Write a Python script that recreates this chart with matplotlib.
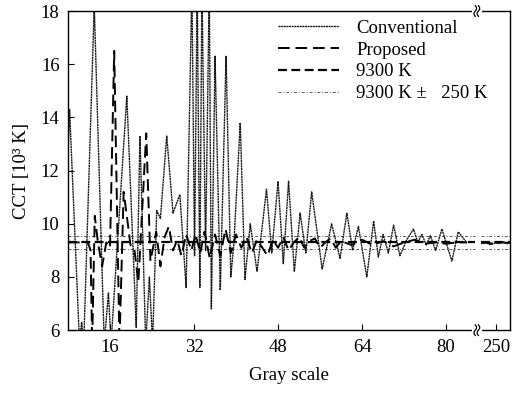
import matplotlib
matplotlib.use("Agg")
import matplotlib.pyplot as plt
import numpy as np

plt.rcParams['font.family'] = ['Liberation Serif', 'DejaVu Serif']
plt.rcParams['font.size'] = 13.5

# conventional method (gray level, CCT in 10^3 K)
conv_g = [8.0, 8.3, 10.2, 10.6, 11.0, 13.0, 14.9, 15.7, 16.2, 19.2, 21.0, 21.7,
          22.8, 23.5, 24.1, 24.9, 25.6, 26.8, 28.0, 29.3, 30.5, 31.6, 32.1, 32.6,
          33.1, 33.5, 34.2, 34.9, 35.3, 36.0, 37.0, 38.1, 39.0, 39.6, 40.8, 41.7,
          42.7, 44.0, 45.8, 46.8, 48.0, 49.0, 50.0, 51.1, 52.2, 53.3, 54.4, 56.4,
          58.2, 59.8, 61.1, 62.2, 63.3, 64.9, 66.2, 67.1, 68.0, 69.0, 70.0, 71.2,
          72.5, 73.8, 74.6, 75.4, 76.2, 77.0, 78.0, 79.2, 81.1, 82.3, 83.9]
conv_v = [12.6, 14.3, 5.5, 6.3, 5.5, 18.2, 5.5, 7.4, 5.5, 14.8, 6.1, 13.3,
          5.5, 8.0, 5.5, 10.5, 10.2, 13.3, 10.4, 11.1, 7.6, 19.0, 8.8, 19.0,
          7.6, 19.0, 9.0, 19.0, 6.8, 16.3, 7.5, 16.3, 8.0, 9.3, 13.8, 7.9,
          10.0, 8.2, 11.3, 8.9, 11.6, 8.5, 11.6, 8.2, 10.4, 8.9, 11.2, 8.3,
          10.0, 8.7, 10.4, 9.0, 9.9, 8.0, 10.1, 8.75, 9.6, 8.9, 9.95, 8.8,
          9.4, 9.8, 9.3, 9.6, 9.2, 9.55, 9.0, 9.8, 8.6, 9.7, 9.3]

# proposed method
prop_g = [8.0, 11.8, 12.3, 12.6, 13.1, 13.7, 14.5, 15.3, 16.0, 16.8, 17.8, 18.6,
          19.2, 19.9, 20.6, 21.4, 22.9, 23.7, 24.3, 24.8, 25.6, 26.4, 27.2, 28.0,
          28.8, 29.6, 30.5, 31.5, 32.3, 33.2, 34.0, 35.0, 36.0, 37.0, 38.0, 39.0,
          40.0, 41.0, 42.0, 43.0, 44.0, 45.0, 46.0, 47.0, 48.0, 49.0, 50.0, 51.0,
          52.0, 53.0, 54.0, 55.0, 56.0, 57.0, 58.0, 59.0, 60.0, 62.0, 64.0, 66.0,
          68.0, 70.0, 72.0, 74.0, 76.0, 78.0, 80.0, 82.0, 84.0]
prop_v = [9.3, 9.3, 9.0, 5.5, 10.3, 9.3, 8.4, 9.3, 9.1, 16.5, 5.5, 11.2,
          10.3, 9.2, 9.1, 7.8, 13.4, 8.6, 9.2, 9.7, 8.4, 9.5, 9.9, 9.0,
          9.4, 8.8, 9.6, 9.0, 9.6, 8.9, 9.7, 8.7, 9.6, 8.8, 9.8, 8.9,
          9.6, 9.1, 9.5, 8.9, 9.4, 9.1, 8.8, 9.4, 9.1, 9.5, 9.0, 9.3,
          9.5, 9.1, 9.35, 9.45, 9.1, 9.3, 9.45, 9.1, 9.35, 9.2, 9.4, 9.2,
          9.35, 9.15, 9.3, 9.4, 9.25, 9.3, 9.25, 9.3, 9.3]

# high gray levels after the axis break
tail_g = [245, 246, 247, 248, 249, 250, 251, 252, 253, 254, 255]
tail_conv = [9.25, 9.3, 9.27, 9.22, 9.24, 9.28, 9.25, 9.3, 9.28, 9.25, 9.3]
tail_prop = [9.3, 9.28, 9.3, 9.26, 9.27, 9.3, 9.29, 9.3, 9.3, 9.28, 9.3]

target = 9.3
tol = 0.25

xticks_g = [16, 32, 48, 64, 80, 250]


def to_pos(g):
    g = np.asarray(g, dtype=float)
    return np.where(g > 200, 89.45 + (g - 250) * 0.55, g)


fig = plt.figure(figsize=(5.19, 3.94), dpi=100)
ax = fig.add_axes([0.131, 0.162, 0.852, 0.81])

conv_ls = (0, (1.5, 0.4))
prop_ls = (0, (6, 3))
targ_ls = (0, (4, 2))
tol_ls = (0, (3, 2, 1, 2))

segs = [(8, 85.5), (86.6, 92.2)]
for i, (a, b) in enumerate(segs):
    ax.plot([a, b], [target, target], color='black', lw=1.6, ls=targ_ls,
            label='9300 K' if i == 0 else None, zorder=3)
    ax.plot([a, b], [target + tol] * 2, color='0.35', lw=0.7, ls=tol_ls,
            label='9300 K \u00b1   250 K' if i == 0 else None)
    ax.plot([a, b], [target - tol] * 2, color='0.35', lw=0.7, ls=tol_ls)

ax.plot(conv_g, conv_v, color='0.1', lw=1.0, ls=conv_ls, label='Conventional')
ax.plot(prop_g, prop_v, color='black', lw=1.4, ls=prop_ls, label='Proposed')
ax.plot(to_pos(tail_g), tail_conv, color='0.1', lw=1.0, ls=conv_ls)
ax.plot(to_pos(tail_g), tail_prop, color='black', lw=1.4, ls=prop_ls)

ax.set_xlim(8, 92.2)
ax.set_ylim(6, 18)
ax.set_xticks(to_pos(xticks_g))
ax.set_xticklabels([str(t) for t in xticks_g])
ax.set_yticks(np.arange(6, 19, 2))
ax.tick_params(direction='in', length=4, top=False, right=False, pad=6)
ax.set_xlabel('Gray scale', labelpad=8)
ax.set_ylabel('CCT [10\u00b3 K]', labelpad=8)
for s in ax.spines.values():
    s.set_linewidth(1.0)

# axis break marks on top and bottom spines
for yb in (6, 18):
    ax.plot([85.3, 86.4], [yb, yb], color='white', lw=3, clip_on=False, zorder=5)
    t = np.linspace(-1, 1, 30)
    for x0 in (85.55, 86.15):
        ax.plot(x0 + 0.25 * np.sin(np.pi * t), yb + 0.2 * t, color='black',
                lw=0.9, clip_on=False, zorder=6)

handles, labels = ax.get_legend_handles_labels()
order = [labels.index(l) for l in ['Conventional', 'Proposed', '9300 K', '9300 K \u00b1   250 K']]
ax.legend([handles[i] for i in order], [labels[i] for i in order],
          loc='upper left', bbox_to_anchor=(0.44, 1.02), frameon=False,
          handlelength=3.3, handletextpad=0.9, labelspacing=0.25, borderpad=0.3)

fig.savefig('out.png', dpi=100)
